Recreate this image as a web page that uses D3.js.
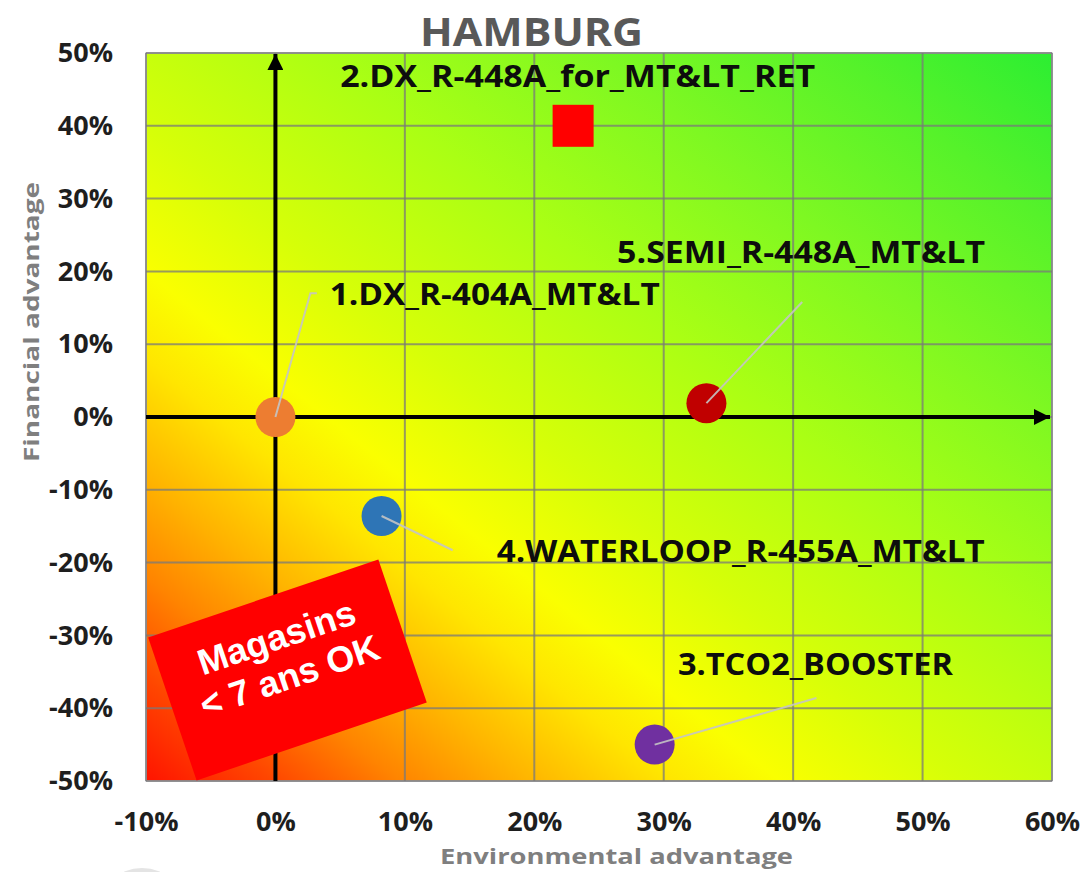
<!DOCTYPE html>
<html>
<head>
<meta charset="utf-8">
<script src="https://cdn.jsdelivr.net/npm/d3@7"></script>
<style>
  html, body { margin: 0; padding: 0; background: #ffffff; }
  svg { display: block; }
</style>
</head>
<body>
<svg id="chart" width="1084" height="872"></svg>
<script>
// ---- data -------------------------------------------------------------
const names = [
  "1.DX_R-404A_MT&LT",
  "2.DX_R-448A_for_MT&LT_RET",
  "3.TCO2_BOOSTER",
  "4.WATERLOOP_R-455A_MT&LT",
  "5.SEMI_R-448A_MT&LT"
];
const environmental = [0.000, 0.230, 0.293, 0.082, 0.333];   // x
const financial     = [0.000, 0.400, -0.450, -0.136, 0.019]; // y
const markerColors  = ["#ED7D31", "#FF0000", "#7030A0", "#2E75B6", "#C00000"];
const markerShapes  = ["circle", "square", "circle", "circle", "circle"];

const xTickValues = [-0.1, 0, 0.1, 0.2, 0.3, 0.4, 0.5, 0.6];
const yTickValues = [-0.5, -0.4, -0.3, -0.2, -0.1, 0, 0.1, 0.2, 0.3, 0.4, 0.5];

const chartTitle = "HAMBURG";
const xTitle = "Environmental advantage";
const yTitle = "Financial advantage";
const noteLines = ["Magasins", "< 7 ans OK"];

// ---- layout -----------------------------------------------------------
const plot = { left: 146, right: 1052, top: 53, bottom: 781 };

// label placement in chart units: text start, baseline, leader path, text width
const labelLayout = [
  { tx: 0.042, ty: 0.154, leader: [[0.027, 0.170], [0.032, 0.170]], w: 330 },
  { tx: 0.050, ty: 0.453, leader: null, w: 475 },
  { tx: 0.311, ty: -0.354, leader: [[0.418, -0.386]], w: 275 },
  { tx: 0.171, ty: -0.199, leader: [[0.137, -0.183]], w: 488 },
  { tx: 0.264, ty: 0.212, leader: [[0.407, 0.158]], w: 368 }
];

const svg = d3.select("#chart");
const x = d3.scaleLinear().domain([-0.1, 0.6]).range([plot.left, plot.right]);
const y = d3.scaleLinear().domain([-0.5, 0.5]).range([plot.bottom, plot.top]);
const pctBase = d3.format(".0%");
const pct = d => pctBase(d).replace("\u2212", "-");

const defs = svg.append("defs");

// diagonal background: red at lower-left through yellow to green at upper-right
const grad = defs.append("linearGradient")
  .attr("id", "bg").attr("x1", 0).attr("y1", 1).attr("x2", 1).attr("y2", 0);
[
  [0.00, "#FF1400"], [0.07, "#FF4600"], [0.14, "#FF8400"], [0.21, "#FFB400"],
  [0.29, "#FFE600"], [0.35, "#FAFF00"], [0.45, "#D6FF08"], [0.60, "#AAFF14"],
  [0.75, "#7EF822"], [0.88, "#56F22A"], [1.00, "#2CEE32"]
].forEach(([o, c]) => grad.append("stop").attr("offset", o).attr("stop-color", c));

// faint round mark below the chart
svg.append("circle").attr("cx", 142).attr("cy", 912).attr("r", 44)
  .attr("fill", "#e4e4e4");

// plot background
svg.append("rect")
  .attr("x", plot.left).attr("y", plot.top)
  .attr("width", plot.right - plot.left).attr("height", plot.bottom - plot.top)
  .attr("fill", "url(#bg)").attr("stroke", "#c9c9d2").attr("stroke-width", 1.5);

// grid
const grid = svg.append("g").attr("stroke", "#7a7a7a").attr("stroke-opacity", 0.75)
  .attr("stroke-width", 2);
grid.selectAll("line.v").data(xTickValues).join("line").attr("class", "v")
  .attr("x1", d => x(d)).attr("x2", d => x(d))
  .attr("y1", plot.top).attr("y2", plot.bottom);
grid.selectAll("line.h").data(yTickValues).join("line").attr("class", "h")
  .attr("y1", d => y(d)).attr("y2", d => y(d))
  .attr("x1", plot.left).attr("x2", plot.right);

// tick labels
const tickFont = "'Open Sans', 'DejaVu Sans', sans-serif";
const yAxis = svg.append("g").attr("transform", `translate(${plot.left},0)`)
  .call(d3.axisLeft(y).tickValues(yTickValues).tickFormat(pct).tickSize(0).tickPadding(33));
const xAxis = svg.append("g").attr("transform", `translate(0,${plot.bottom})`)
  .call(d3.axisBottom(x).tickValues(xTickValues).tickFormat(pct).tickSize(0).tickPadding(31));
[yAxis, xAxis].forEach(a => {
  a.select(".domain").remove();
  a.selectAll("text").attr("fill", "#1e1e1e").attr("font-family", tickFont)
    .attr("font-weight", 700).attr("font-size", 27);
});

// arrowed zero axes
defs.append("marker").attr("id", "arrow").attr("viewBox", "0 0 10 10")
  .attr("refX", 10).attr("refY", 5).attr("markerWidth", 4.2).attr("markerHeight", 4)
  .attr("markerUnits", "strokeWidth").attr("orient", "auto")
  .append("path").attr("d", "M0,0 L10,5 L0,10 Z").attr("fill", "#000");

svg.append("line")
  .attr("x1", x(0)).attr("x2", x(0)).attr("y1", plot.bottom).attr("y2", plot.top + 1)
  .attr("stroke", "#000").attr("stroke-width", 4).attr("marker-end", "url(#arrow)");
svg.append("line")
  .attr("x1", plot.left).attr("x2", plot.right - 2).attr("y1", y(0)).attr("y2", y(0))
  .attr("stroke", "#000").attr("stroke-width", 4).attr("marker-end", "url(#arrow)");

// note box
const noteCx = x(0.0093), noteCy = y(-0.3475);
const note = svg.append("g")
  .attr("transform", `translate(${noteCx},${noteCy}) rotate(-18.7)`);
note.append("rect").attr("x", -121.5).attr("y", -75.5).attr("width", 243).attr("height", 151)
  .attr("fill", "#FF0000");
note.selectAll("text").data(noteLines).join("text")
  .attr("x", 0).attr("y", (d, i) => -22 + i * 41)
  .attr("text-anchor", "middle")
  .attr("font-family", "'Liberation Sans', Arial, sans-serif")
  .attr("font-weight", 700).attr("font-size", 36).attr("fill", "#fff")
  .text(d => d);

// leader lines and markers
const idx = d3.range(names.length);
const marks = svg.append("g");
marks.selectAll("circle").data(idx.filter(i => markerShapes[i] === "circle")).join("circle")
  .attr("cx", i => x(environmental[i])).attr("cy", i => y(financial[i]))
  .attr("r", 20).attr("fill", i => markerColors[i]);
marks.selectAll("rect").data(idx.filter(i => markerShapes[i] === "square")).join("rect")
  .attr("x", i => x(environmental[i]) - 20.5).attr("y", i => y(financial[i]) - 21)
  .attr("width", 41).attr("height", 42).attr("fill", i => markerColors[i]);

svg.append("g").selectAll("path").data(idx.filter(i => labelLayout[i].leader)).join("path")
  .attr("d", i => d3.line()([[x(environmental[i]), y(financial[i])],
    ...labelLayout[i].leader.map(p => [x(p[0]), y(p[1])])]))
  .attr("fill", "none").attr("stroke", "#c4c4c4").attr("stroke-width", 2)
  .attr("stroke-opacity", 0.9);

// series labels
svg.append("g").selectAll("text").data(idx).join("text")
  .attr("x", i => x(labelLayout[i].tx)).attr("y", i => y(labelLayout[i].ty))
  .attr("textLength", i => labelLayout[i].w).attr("lengthAdjust", "spacingAndGlyphs")
  .attr("font-family", tickFont).attr("font-weight", 700).attr("font-size", 30)
  .attr("fill", "#0d0d0d")
  .text(i => names[i]);

// titles
svg.append("text").attr("x", 420).attr("y", 46)
  .attr("textLength", 223).attr("lengthAdjust", "spacingAndGlyphs")
  .attr("font-family", tickFont).attr("font-weight", 700).attr("font-size", 40)
  .attr("fill", "#595959").text(chartTitle);

svg.append("text").attr("x", 440).attr("y", 864)
  .attr("textLength", 353).attr("lengthAdjust", "spacingAndGlyphs")
  .attr("font-family", tickFont).attr("font-weight", 700).attr("font-size", 22)
  .attr("fill", "#7f7f7f").text(xTitle);

svg.append("text")
  .attr("transform", "translate(39,462) rotate(-90)")
  .attr("x", 0).attr("y", 0)
  .attr("textLength", 280).attr("lengthAdjust", "spacingAndGlyphs")
  .attr("font-family", tickFont).attr("font-weight", 700).attr("font-size", 22)
  .attr("fill", "#7f7f7f").text(yTitle);
</script>
</body>
</html>
